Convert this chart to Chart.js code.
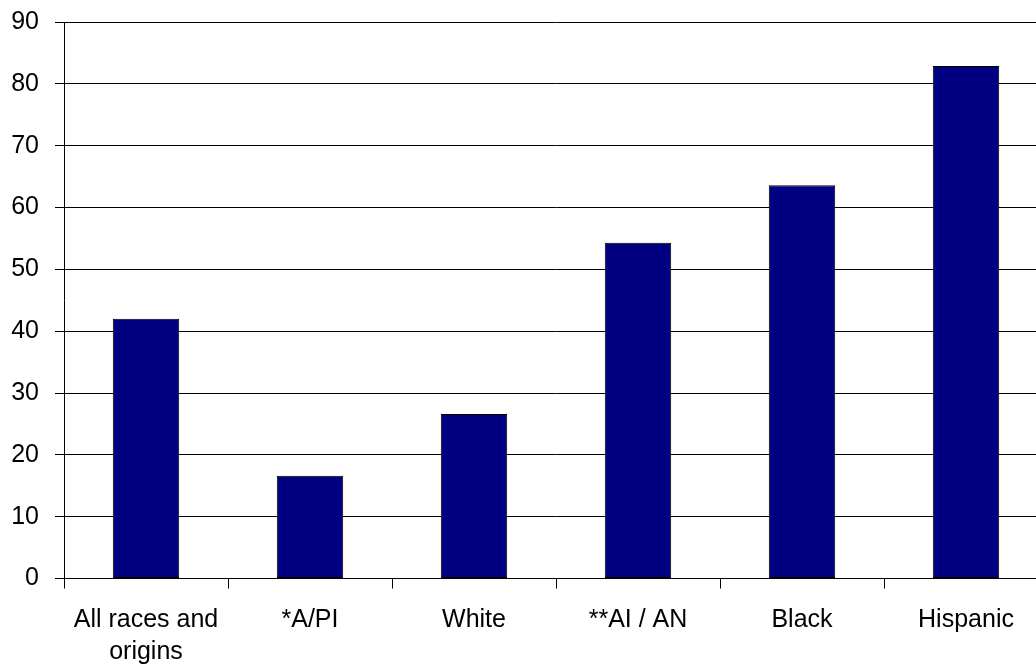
<!DOCTYPE html>
<html>
<head>
<meta charset="utf-8">
<script src="https://cdn.jsdelivr.net/npm/chart.js@4/dist/chart.umd.min.js"></script>
<style>
  html, body { margin: 0; padding: 0; background: #fff; overflow: hidden; }
  #wrap { width: 1048px; height: 666px; }
</style>
</head>
<body>
<div id="wrap"><canvas id="chart" width="1048" height="666"></canvas></div>
<script>
// Categories (multi-line labels as arrays)
const categories = [
  ["All races and", "origins"],
  "*A/PI",
  "White",
  "**AI / AN",
  "Black",
  "Hispanic"
];

// Rate per group
const values = [42.0, 16.6, 26.6, 54.3, 63.6, 82.9];

// Y axis range and step
const yMin = 0;
const yMax = 90;
const yStep = 10;

const FONT = "'Liberation Sans', Arial, Helvetica, sans-serif";

new Chart(document.getElementById("chart"), {
  type: "bar",
  data: {
    labels: categories,
    datasets: [{
      data: values,
      backgroundColor: "#000080",
      borderColor: "#000000",
      borderWidth: 1,
      borderSkipped: false,
      barPercentage: 0.405,
      categoryPercentage: 1.0
    }]
  },
  options: {
    responsive: false,
    animation: false,
    devicePixelRatio: 1,
    layout: { padding: { top: 22, right: 0, bottom: 0, left: 0 } },
    plugins: {
      legend: { display: false },
      tooltip: { enabled: false }
    },
    scales: {
      x: {
        grid: {
          display: true,
          drawOnChartArea: false,
          drawTicks: true,
          tickLength: 10,
          color: "#000000",
          lineWidth: 1
        },
        border: { display: true, color: "#000000", width: 1 },
        ticks: {
          color: "#000000",
          padding: 16,
          maxRotation: 0,
          autoSkip: false,
          font: { family: FONT, size: 25, lineHeight: 1.26 }
        },
        afterFit(scale) { scale.height = 87.5; }
      },
      y: {
        min: yMin,
        max: yMax,
        grid: {
          color: "#000000",
          lineWidth: 1,
          drawTicks: true,
          tickLength: 9
        },
        border: { display: true, color: "#000000", width: 1 },
        ticks: {
          stepSize: yStep,
          color: "#000000",
          padding: 16,
          font: { family: FONT, size: 25 }
        },
        afterFit(scale) {
          scale.width = 64;
          // let the layout padding alone decide the plot's top edge
          scale.paddingTop = 0;
          scale.paddingBottom = 0;
        }
      }
    }
  }
});
</script>
</body>
</html>
